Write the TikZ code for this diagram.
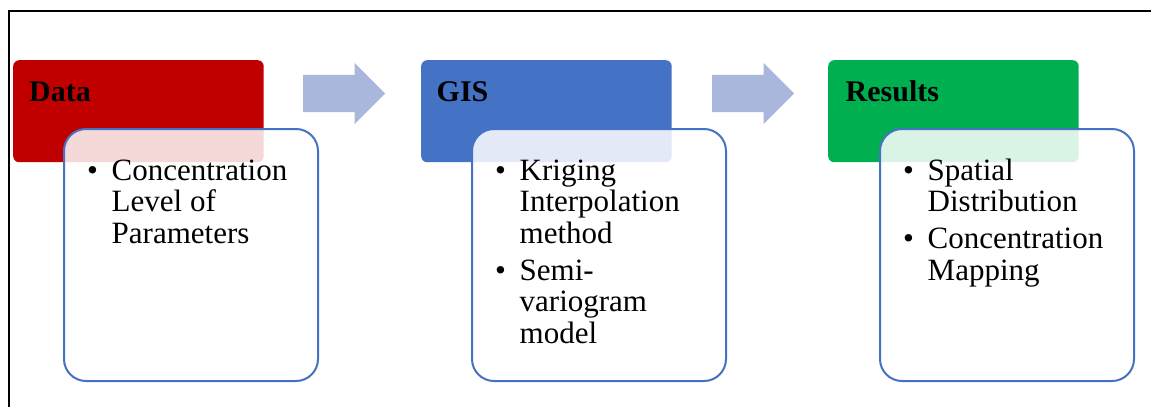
\documentclass[tikz,border=0pt]{standalone}
\usepackage{fontspec}
\setmainfont{Liberation Serif}
\usetikzlibrary{shapes.arrows}
\definecolor{datared}{HTML}{C00000}
\definecolor{gisblue}{HTML}{4472C4}
\definecolor{resgreen}{HTML}{00B050}
\definecolor{boxblue}{HTML}{4472C4}
\definecolor{arrowblue}{HTML}{A8B7DB}
\newcommand\mybul{\makebox[24.5pt][l]{\textbullet}}
\newcommand\myind{\hspace*{24.5pt}}
\begin{document}
\begin{tikzpicture}[x=1pt,y=-1pt,
  hdr/.style={rounded corners=6pt, minimum width=250.5pt, minimum height=102pt, anchor=north west, inner sep=0pt},
  cbox/.style={draw=boxblue, line width=2pt, fill=white, fill opacity=0.85, rounded corners=22pt, minimum width=254pt, minimum height=252pt, anchor=north west, inner sep=0pt},
  harrow/.style={single arrow, fill=arrowblue, single arrow head extend=12pt, minimum height=82pt, minimum width=61pt, inner xsep=0pt, inner ysep=18.5pt, anchor=tail},
  hlabel/.style={anchor=base west, inner sep=0pt, font=\fontsize{30}{30}\selectfont\bfseries},
  blist/.style={anchor=base west, inner sep=0pt, font=\fontsize{31}{31.5}\selectfont}
]
\useasboundingbox (0,0) rectangle (1151,407);
\fill[white] (0,0) rectangle (1151,407);
\draw[line width=1.5pt] (9,407) -- (9,11) -- (1151,11);

% header boxes
\node[hdr, fill=datared] (dataH) at (13,60) {};
\node[hdr, fill=gisblue] (gisH) at (421,60) {};
\node[hdr, fill=resgreen] (resH) at (828,60) {};

% content boxes
\node[cbox] (dataC) at (63,128) {};
\node[cbox] (gisC) at (471,128) {};
\node[cbox] (resC) at (879,128) {};

% header labels
\node[hlabel] (dataT) at (29,101) {Data};
\node[hlabel] (gisT) at (436.5,101) {GIS};
\node[hlabel] (resT) at (845.5,101) {Results};

% lists
\node[blist] (dataL) at (87,180) {\begin{tabular}[t]{@{}l@{}}\mybul Concentration\\\myind Level of\\\myind Parameters\end{tabular}};
\node[blist] (gisL) at (495,180) {\begin{tabular}[t]{@{}l@{}}\mybul Kriging\\\myind Interpolation\\\myind method\\[5.5pt]\mybul Semi-\\\myind variogram\\\myind model\end{tabular}};
\node[blist] (resL) at (903,180) {\begin{tabular}[t]{@{}l@{}}\mybul Spatial\\\myind Distribution\\[5.5pt]\mybul Concentration\\\myind Mapping\end{tabular}};

% arrows
\node[harrow] (arr1) at (303,93.5) {};
\node[harrow] (arr2) at (712,93.5) {};
\end{tikzpicture}
\end{document}
